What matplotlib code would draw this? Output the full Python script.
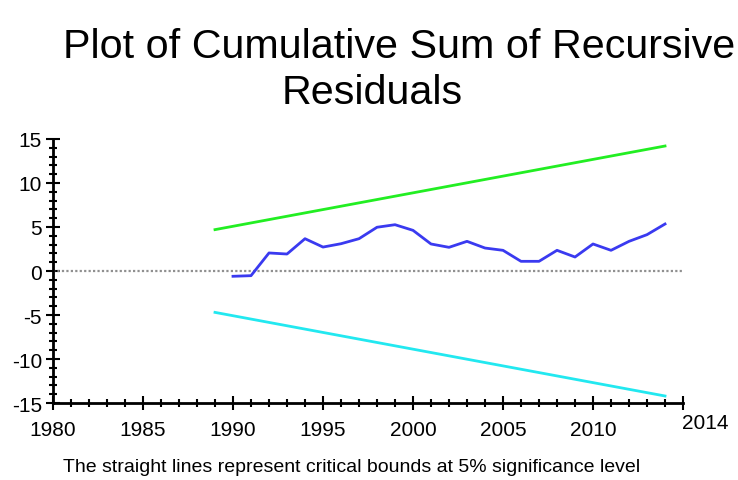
import numpy as np
import matplotlib
matplotlib.use("Agg")
import matplotlib.pyplot as plt
from matplotlib.ticker import MultipleLocator, FixedLocator

# data
years = list(range(1990, 2015))
cusum = [-0.6, -0.53, 2.05, 1.93, 3.67, 2.72, 3.1, 3.67, 4.97, 5.26, 4.62,
         3.07, 2.69, 3.37, 2.61, 2.35, 1.1, 1.1, 2.35, 1.59, 3.07, 2.35,
         3.37, 4.13, 5.34]
bound_years = [1989, 2014]
upper = [4.7, 14.2]
lower = [-4.7, -14.2]
xticks = [1980, 1985, 1990, 1995, 2000, 2005, 2010]
yticks = [-15, -10, -5, 0, 5, 10, 15]

plt.rcParams['font.family'] = ['Liberation Sans', 'DejaVu Sans']

fig = plt.figure(figsize=(7.38, 4.81), dpi=100)
ax = fig.add_axes([0.0718, 0.160, 0.8537, 0.549])

ax.plot([1980, 2015], [0, 0], color='#909090', lw=1.6, ls=(0, (1, 1)))
ax.plot(bound_years, upper, color='#22ee22', lw=2)
ax.plot(bound_years, lower, color='#22e8f0', lw=2)
ax.plot(years, cusum, color='#3a3af0', lw=2)

ax.set_xlim(1980, 2015)
ax.set_ylim(-15, 15)
ax.spines['top'].set_visible(False)
ax.spines['right'].set_visible(False)
ax.spines['left'].set_linewidth(2)
ax.spines['bottom'].set_linewidth(2)

ax.xaxis.set_major_locator(FixedLocator(xticks + [2015]))
ax.set_xticklabels([str(x) for x in xticks] + [''])
ax.xaxis.set_minor_locator(MultipleLocator(1))
ax.set_yticks(yticks)
ax.set_yticklabels([str(y) for y in yticks])
ax.yaxis.set_minor_locator(MultipleLocator(1))
ax.tick_params(which='major', direction='inout', length=10, width=1.5, labelsize=15)
ax.tick_params(axis='y', which='major', pad=3)
ax.tick_params(axis='x', which='major', pad=7)
ax.tick_params(which='minor', direction='inout', length=6, width=1.5)

# last year label sits to the right of the axis end
ax.annotate('2014', xy=(2015, -15), xytext=(16, -7), textcoords='offset points',
            ha='center', va='top', fontsize=15, annotation_clip=False)

t1 = fig.text(399 / 738, 1 - 58 / 481, 'Plot of Cumulative Sum of Recursive',
              ha='center', va='baseline', fontsize=38)
t2 = fig.text(372 / 738, 1 - 104 / 481, 'Residuals', ha='center', va='baseline', fontsize=38)
fig.text(352 / 738, 1 - 472 / 481,
         'The straight lines represent critical bounds at 5% significance level',
         ha='center', va='baseline', fontsize=14)

# shrink the title so its first line is as wide as in the picture
r = fig.canvas.get_renderer()
w = t1.get_window_extent(r).width
size = 38 * 672 / w
t1.set_fontsize(size)
t2.set_fontsize(size)

fig.savefig('out.png', dpi=100)
